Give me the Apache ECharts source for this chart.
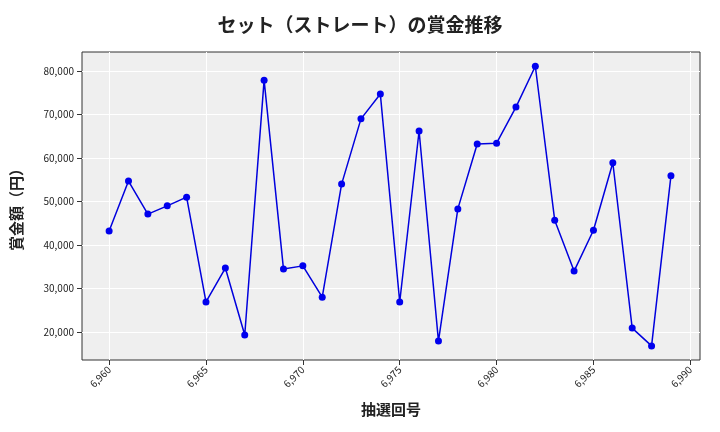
<!DOCTYPE html>
<html>
<head>
<meta charset="utf-8">
<script src="https://cdn.jsdelivr.net/npm/echarts@6/dist/echarts.min.js"></script>
<style>body{margin:0}#c{width:720px;height:432px}</style>
</head>
<body>
<div id="c"></div>
<script>
// 抽選回号と賞金
var draws = [];
for (var i = 6960; i <= 6989; i++) draws.push(i);
var prizes = [43200, 54700, 47100, 49000, 51000, 26900, 34700, 19300, 77900, 34500,
  35200, 28000, 54000, 69000, 74700, 26900, 66200, 17900, 48300, 63200,
  63400, 71700, 81100, 45700, 34000, 43400, 58900, 20900, 16800, 55900];
var xTicks = [6960, 6965, 6970, 6975, 6980, 6985, 6990];
var yTicks = [20000, 30000, 40000, 50000, 60000, 70000, 80000];

var chart = echarts.init(document.getElementById('c'));
var font = '"Noto Sans CJK JP", "DejaVu Sans", sans-serif';
chart.setOption({
  animation: false,
  title: {
    text: 'セット（ストレート）の賞金推移',
    left: 'center', top: 10,
    textStyle: {fontFamily: font, fontSize: 19, fontWeight: 'bold', color: '#222'}
  },
  grid: {left: 82, right: 20, top: 52, bottom: 72, show: true,
    backgroundColor: '#efefef', borderWidth: 1, borderColor: '#333'},
  xAxis: {
    type: 'value', min: 6958.6, max: 6990.5,
    name: '抽選回号', nameLocation: 'middle', nameGap: 42,
    nameTextStyle: {fontFamily: font, fontSize: 15, fontWeight: 'bold', color: '#222'},
    axisLine: {show: false},
    axisTick: {show: true, customValues: xTicks, lineStyle: {color: '#333'}},
    axisLabel: {rotate: 45, fontSize: 10, color: '#222', fontFamily: font, customValues: xTicks},
    splitLine: {show: true, lineStyle: {color: '#fff', width: 1}}
  },
  yAxis: {
    type: 'value', min: 13560, max: 84370,
    name: '賞金額（円）', nameLocation: 'middle', nameGap: 58,
    nameTextStyle: {fontFamily: font, fontSize: 15, fontWeight: 'bold', color: '#222'},
    axisLine: {show: false},
    axisTick: {show: true, customValues: yTicks, lineStyle: {color: '#333'}},
    axisLabel: {fontSize: 10, color: '#222', fontFamily: font, customValues: yTicks,
      formatter: function (v) { return v.toLocaleString('en-US'); }},
    splitLine: {show: true, lineStyle: {color: '#fff', width: 1}}
  },
  series: [{
    type: 'line',
    data: draws.map(function (d, i) { return [d, prizes[i]]; }),
    symbol: 'circle', symbolSize: 7,
    lineStyle: {color: '#0000dd', width: 1.5},
    itemStyle: {color: '#0000ee'}
  }]
});
</script>
</body>
</html>
